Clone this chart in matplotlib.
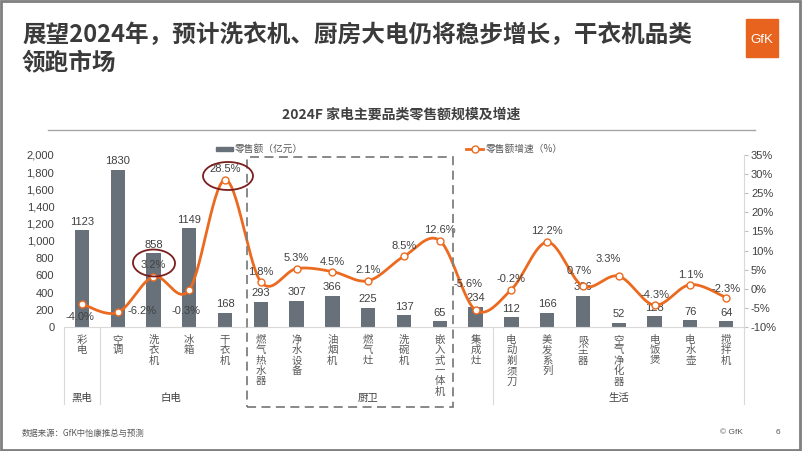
import numpy as np
import matplotlib
matplotlib.use("Agg")
from matplotlib import pyplot as plt
from matplotlib.patches import Rectangle, Ellipse
from matplotlib.lines import Line2D
from matplotlib.ticker import FuncFormatter

plt.rcParams['font.family'] = ['Liberation Sans', 'Noto Sans CJK SC', 'DejaVu Sans']
CJK = ['Noto Sans CJK SC', 'DejaVu Sans']

# data
categories = ['彩电', '空调', '洗衣机', '冰箱', '干衣机',
              '燃气热水器', '净水设备', '油烟机', '燃气灶', '洗碗机', '嵌入式一体机', '集成灶',
              '电动剃须刀', '美发系列', '吸尘器', '空气净化器', '电饭煲', '电水壶', '搅拌机']
sales = [1123, 1830, 858, 1149, 168,
         293, 307, 366, 225, 137, 65, 234,
         112, 166, 366, 52, 128, 76, 64]
growth = [-4.0, -6.2, 3.2, -0.3, 28.5,
          1.8, 5.3, 4.5, 2.1, 8.5, 12.6, -5.6,
          -0.2, 12.2, 0.7, 3.3, -4.3, 1.1, -2.3]
groups = ['黑电', '白电', '厨卫', '生活']
group_sizes = [1, 4, 7, 7]

W, H = 802, 451
BAR = '#68717a'
ORANGE = '#EB6A1F'
TXT = '#404040'


def fx(x):
    return x / W


def fy(y):
    return 1 - y / H


fig = plt.figure(figsize=(W / 100, H / 100), dpi=100)
fig.patch.set_facecolor('white')

ax = fig.add_axes([fx(64), fy(327), fx(744) - fx(64), fy(155) - fy(327)])
ax2 = ax.twinx()

n = len(categories)
xs = np.arange(n)

# bars
ax.bar(xs, sales, width=0.4, color=BAR, zorder=2)
for x, v in zip(xs, sales):
    ax.annotate(str(v), (x, v), xytext=(0, 2.5), textcoords='offset points',
                ha='center', va='bottom', fontsize=8, color=TXT)

ax.set_xlim(-0.5, n - 0.5)
ax.set_ylim(0, 2000)
ax.set_yticks(np.arange(0, 2001, 200))
ax.yaxis.set_major_formatter(FuncFormatter(lambda v, p: f'{int(v):,}'))
ax.tick_params(axis='y', length=0, pad=7, labelsize=8, labelcolor=TXT)
ax.set_xticks([])
for s in ['top', 'left', 'right']:
    ax.spines[s].set_visible(False)
ax.spines['bottom'].set_color('#d9d9d9')

# smoothed growth line (catmull-rom through the points)
px = np.concatenate([[xs[0]], xs, [xs[-1]]]).astype(float)
py = np.concatenate([[growth[0]], growth, [growth[-1]]]).astype(float)
t = np.linspace(0, 1, 30)[:, None]
sx, sy = [], []
for i in range(1, len(px) - 2):
    for arr, out in ((px, sx), (py, sy)):
        p0, p1, p2, p3 = arr[i - 1], arr[i], arr[i + 1], arr[i + 2]
        c = 0.5 * (2 * p1 + (-p0 + p2) * t + (2 * p0 - 5 * p1 + 4 * p2 - p3) * t ** 2
                   + (-p0 + 3 * p1 - 3 * p2 + p3) * t ** 3)
        out.extend(c.ravel())
ax2.plot(sx, sy, color=ORANGE, lw=2, zorder=3)
ax2.plot(xs, growth, ls='none', marker='o', ms=5, mfc='white', mec=ORANGE, mew=1, zorder=4)

# label offsets in pixels (dx, dy)
offs = [(-2, -13), (24, 1), (0, 12), (-3, -21), (0, 11),
        (0, 10), (0, 11), (0, 10), (0, 11), (0, 10), (0, 11), (-8, 26),
        (0, 11), (0, 11), (-4, 15), (-10, 17), (0, 10), (0, 10), (0, 9)]
for x, v, (dx, dy) in zip(xs, growth, offs):
    ax2.annotate(f'{v:.1f}%', (x, v), xytext=(dx * 0.72, dy * 0.72), textcoords='offset points',
                 ha='center', va='center', fontsize=8, color=TXT, zorder=5)

ax2.set_ylim(-10, 35)
ax2.set_yticks(np.arange(-10, 36, 5))
ax2.yaxis.set_major_formatter(FuncFormatter(lambda v, p: f'{int(v)}%'))
ax2.tick_params(axis='y', length=3, color='#bfbfbf', pad=2, labelsize=8, labelcolor=TXT)
for s in ['top', 'left', 'bottom']:
    ax2.spines[s].set_visible(False)
ax2.spines['right'].set_color('#d9d9d9')

# category labels (vertical stacked characters)
for x, name in zip(xs, categories):
    ax.text(x, -0.045, '\n'.join(name), transform=ax.get_xaxis_transform(), family=CJK,
            ha='center', va='top', fontsize=7.5, color='#595959', linespacing=1.05)

# group labels and separators
bounds = np.concatenate([[0], np.cumsum(group_sizes)]) - 0.5
for g, a, b in zip(groups, bounds[:-1], bounds[1:]):
    ax.text((a + b) / 2, -0.41, g, transform=ax.get_xaxis_transform(), family=CJK,
            ha='center', va='center', fontsize=7.5, color='#404040')
for b in [bounds[0], bounds[1], bounds[3], bounds[4]]:
    ax.plot([b, b], [0, -0.45], transform=ax.get_xaxis_transform(),
            color='#d9d9d9', lw=0.8, clip_on=False)

# dashed box around kitchen categories
fig.add_artist(Rectangle((fx(247), fy(407)), fx(453) - fx(247), fy(157) - fy(407), fill=False,
                         ec='#7f7f7f', lw=1.3, ls=(0, (5, 3)), transform=fig.transFigure))

# hand drawn circles
fig.add_artist(Ellipse((fx(228), fy(176)), fx(50), 28 / H, angle=4, fill=False,
                       ec='#7B1E1E', lw=1.3, transform=fig.transFigure))
fig.add_artist(Ellipse((fx(154), fy(263)), fx(42), 27 / H, angle=6, fill=False,
                       ec='#7B1E1E', lw=1.3, transform=fig.transFigure))

# legend
fig.add_artist(Rectangle((fx(216), fy(151)), fx(17), 4 / H, color=BAR, transform=fig.transFigure))
fig.text(fx(235), fy(149), '零售额（亿元）', fontsize=7, color='#595959', va='center', family=CJK)
fig.add_artist(Line2D([fx(466), fx(483)], [fy(149), fy(149)], color=ORANGE, lw=2,
                      transform=fig.transFigure))
fig.add_artist(Line2D([fx(474.5)], [fy(149)], marker='o', ms=5, mfc='white', mec=ORANGE,
                      mew=1, transform=fig.transFigure))
fig.text(fx(486), fy(149), '零售额增速（%）', fontsize=7, color='#595959', va='center', family=CJK)

# titles
fig.text(fx(22), fy(35), '展望2024年，预计洗衣机、厨房大电仍将稳步增长，干衣机品类', fontsize=17,
         fontweight='bold', color='#3a3a3a', va='center', family=CJK)
fig.text(fx(22), fy(62), '领跑市场', fontsize=17, fontweight='bold', color='#3a3a3a', va='center',
         family=CJK)
fig.text(0.5, fy(115), '2024F 家电主要品类零售额规模及增速', fontsize=10, fontweight='bold',
         color='#404040', ha='center', va='center', family=CJK)
fig.add_artist(Line2D([fx(48), fx(755)], [fy(130), fy(130)], color='#a6a6a6', lw=1,
                      transform=fig.transFigure))

# logo
fig.add_artist(Rectangle((fx(746), fy(57)), fx(32), 38 / H, color='#E8631E', transform=fig.transFigure))
fig.text(fx(762), fy(40), 'GfK', fontsize=9.5, color='white', ha='center', va='center')

# footer
fig.text(fx(22), fy(433), '数据来源：GfK中怡康推总与预测', fontsize=6, color='#595959', va='center',
         family=CJK)
fig.text(fx(720), fy(433), '© GfK', fontsize=6, color='#595959', va='center')
fig.text(fx(776), fy(433), '6', fontsize=6, color='#595959', va='center')

# page border
fig.add_artist(Rectangle((0.001, 0.002), 0.997, 0.996, fill=False, ec='#7f7f7f', lw=2,
                         transform=fig.transFigure))

fig.savefig('out.png', dpi=100)
